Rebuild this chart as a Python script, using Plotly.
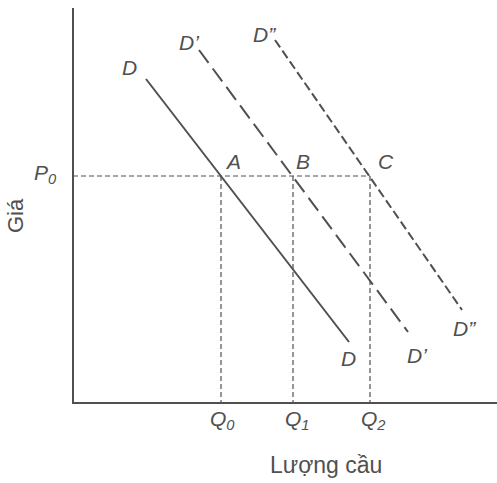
import plotly.graph_objects as go

# Equilibrium price and quantities demanded at that price
price_p0 = 22.7
quantities = {"Q0": 14.8, "Q1": 22.0, "Q2": 29.7}

# Demand curves: (quantity, price) at each end
demand_d = {"q": [7.3, 27.6], "p": [32.4, 6.1]}
demand_d1 = {"q": [12.6, 33.5], "p": [35.3, 7.1]}
demand_d2 = {"q": [20.2, 38.9], "p": [36.3, 9.3]}

axis_top = 39.5
axis_right = 43.0

ink = "#505050"
font_family = "Liberation Sans, Arial, sans-serif"

fig = go.Figure()

# Axes
fig.add_trace(go.Scatter(x=[0, 0, axis_right], y=[axis_top, 0, 0], mode="lines",
                         line=dict(color=ink, width=2), hoverinfo="skip"))

# Guide lines at P0 and down to each quantity
q_max = max(quantities.values())
fig.add_trace(go.Scatter(x=[0, q_max], y=[price_p0, price_p0], mode="lines",
                         line=dict(color=ink, width=1.2, dash="5px,3px"), hoverinfo="skip"))
for q in quantities.values():
    fig.add_trace(go.Scatter(x=[q, q], y=[price_p0, 0], mode="lines",
                             line=dict(color=ink, width=1.2, dash="5px,3px"), hoverinfo="skip"))

# Demand curves
fig.add_trace(go.Scatter(x=demand_d["q"], y=demand_d["p"], mode="lines",
                         line=dict(color=ink, width=2), hoverinfo="skip"))
fig.add_trace(go.Scatter(x=demand_d1["q"], y=demand_d1["p"], mode="lines",
                         line=dict(color=ink, width=2, dash="16px,7px"), hoverinfo="skip"))
fig.add_trace(go.Scatter(x=demand_d2["q"], y=demand_d2["p"], mode="lines",
                         line=dict(color=ink, width=2, dash="9px,4px"), hoverinfo="skip"))

labels = [
    ("<i>D</i>", 5.65, 33.55),
    ("<i>D’</i>", 11.6, 36.1),
    ("<i>D”</i>", 19.1, 36.9),
    ("<i>A</i>", 16.0, 24.2),
    ("<i>B</i>", 23.0, 24.2),
    ("<i>C</i>", 31.3, 24.2),
    ("<i>P<sub>0</sub></i>", -2.8, 22.9),
    ("<i>Q<sub>0</sub></i>", 14.9, -1.7),
    ("<i>Q<sub>1</sub></i>", 22.4, -1.7),
    ("<i>Q<sub>2</sub></i>", 30.0, -1.7),
    ("<i>D</i>", 27.5, 4.5),
    ("<i>D’</i>", 34.4, 4.8),
    ("<i>D”</i>", 39.1, 7.5),
]
for text, x, y in labels:
    fig.add_annotation(x=x, y=y, text=text, showarrow=False,
                       xanchor="center", yanchor="middle",
                       font=dict(family=font_family, size=21, color=ink))

fig.add_annotation(x=-5.8, y=18.7, text="Giá", showarrow=False, textangle=-90,
                   xanchor="center", yanchor="middle",
                   font=dict(family=font_family, size=22, color=ink))
fig.add_annotation(x=25.3, y=-6.2, text="Lượng cầu", showarrow=False,
                   xanchor="center", yanchor="middle",
                   font=dict(family=font_family, size=23, color=ink))

fig.update_layout(
    width=497, height=483,
    margin=dict(l=0, r=0, t=0, b=0),
    paper_bgcolor="white", plot_bgcolor="white",
    showlegend=False,
    xaxis=dict(range=[-7.3, 42.4], visible=False, fixedrange=True),
    yaxis=dict(range=[-8.0, 40.3], visible=False, fixedrange=True),
)

fig.write_html("out.html")
